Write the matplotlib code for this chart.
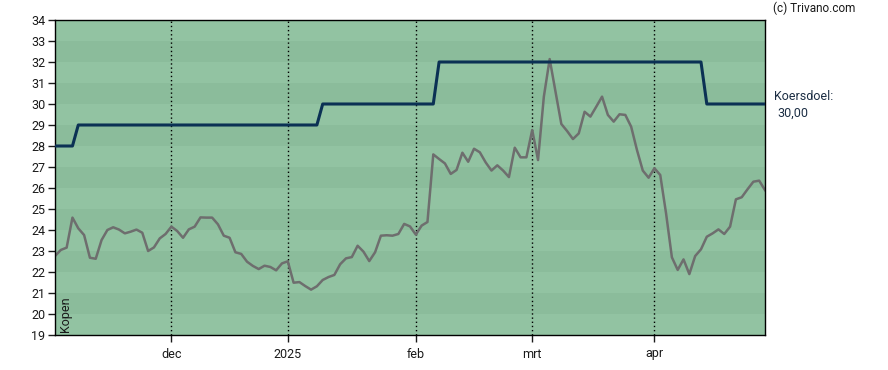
import numpy as np
import pandas as pd
import matplotlib
matplotlib.use('Agg')
import matplotlib.pyplot as plt

plt.rcParams['font.family'] = ['Roboto', 'DejaVu Sans']

# trading days (Euronext), Nov 2024 - Apr 2025
start_date = '2024-11-04'
end_date = '2025-04-30'
holidays = ['2024-12-25', '2024-12-26', '2025-01-01', '2025-04-18', '2025-04-21']
month_names = {1: '', 2: 'feb', 3: 'mrt', 4: 'apr', 5: 'mei', 6: 'jun', 7: 'jul',
               8: 'aug', 9: 'sep', 10: 'okt', 11: 'nov', 12: 'dec'}

# closing prices, one per trading day
prices = [22.76, 23.05, 23.16, 24.59, 24.08, 23.76, 22.68, 22.63, 23.52, 24.00,
          24.13, 24.02, 23.84, 23.92, 24.02, 23.87, 23.00, 23.17, 23.60, 23.81,
          24.16, 23.95, 23.63, 24.03, 24.16, 24.60, 24.59, 24.59, 24.27, 23.73,
          23.63, 22.94, 22.86, 22.49, 22.29, 22.14, 22.30, 22.24, 22.08, 22.41,
          22.51, 21.49, 21.52, 21.33, 21.16, 21.32, 21.62, 21.76, 21.86, 22.37,
          22.65, 22.71, 23.25, 22.97, 22.52, 22.94, 23.73, 23.75, 23.73, 23.81,
          24.29, 24.17, 23.78, 24.21, 24.38, 27.60, 27.38, 27.17, 26.67, 26.86,
          27.68, 27.25, 27.87, 27.70, 27.22, 26.83, 27.08, 26.83, 26.52, 27.92,
          27.46, 27.46, 28.76, 27.33, 30.35, 32.14, 30.59, 29.05, 28.71, 28.33,
          28.60, 29.63, 29.40, 29.87, 30.35, 29.48, 29.16, 29.51, 29.48, 28.92,
          27.81, 26.83, 26.49, 26.94, 26.62, 24.79, 22.70, 22.10, 22.60, 21.90,
          22.76, 23.08, 23.68, 23.84, 24.03, 23.81, 24.16, 25.46, 25.56, 25.94,
          26.30, 26.35, 25.90]

# analyst target price changes
target_dates = ['2024-11-04', '2024-11-08', '2025-01-10', '2025-02-07', '2025-04-14']
target_values = [28, 29, 30, 32, 30]

dates = pd.bdate_range(start_date, end_date, freq='C', holidays=holidays)
x = np.arange(len(dates))

target = pd.Series(target_values, index=pd.to_datetime(target_dates))
target = target.reindex(dates, method='ffill')

# month starts for the x-axis
month_pos = [i for i in range(1, len(dates)) if dates[i].month != dates[i - 1].month]
month_lbl = [str(dates[i].year) if dates[i].month == 1 else month_names[dates[i].month]
             for i in month_pos]

fig = plt.figure(figsize=(8.88, 3.70), dpi=100)
ax = fig.add_axes([55 / 888, 35 / 370, 710 / 888, 315 / 370])

ymin, ymax = 19, 34
for lo in range(ymin, ymax):
    color = '#8bbc9b' if (ymax - lo) % 2 == 0 else '#92c3a2'
    ax.axhspan(lo, lo + 1, color=color, lw=0, zorder=0)

for p in month_pos:
    ax.axvline(p, color='black', lw=1, ls=(0, (1, 2)), zorder=1)

ax.plot(x, target.values, color='#0b3154', lw=2.2, zorder=3)
ax.plot(x, prices, color='#6e6e6e', lw=1.8, zorder=2)

ax.set_xlim(0, len(dates) - 1)
ax.set_ylim(ymin, ymax)
ax.set_yticks(range(ymin, ymax + 1))
ax.set_xticks(month_pos)
ax.set_xticklabels(month_lbl)
ax.tick_params(axis='both', length=5, width=1, labelsize=9, colors='#1a1a1a', pad=2)
ax.tick_params(axis='x', pad=4)
for s in ax.spines.values():
    s.set_color('black')
    s.set_linewidth(1)

ax.text(0.006, 0.01, 'Kopen', transform=ax.transAxes, rotation=90,
        ha='left', va='bottom', fontsize=9, color='#1a1a1a')

fig.text(773 / 888, 1 - 8.5 / 370, '(c) Trivano.com', ha='left', va='center',
         fontsize=8.5, color='#1a1a1a')
fig.text(774 / 888, 1 - 96 / 370, 'Koersdoel:', ha='left', va='center',
         fontsize=9, color='#1c2e44')
fig.text(777 / 888, 1 - 113 / 370, '30,00', ha='left', va='center',
         fontsize=9, color='#1c2e44')

fig.savefig('out.png', dpi=100)
